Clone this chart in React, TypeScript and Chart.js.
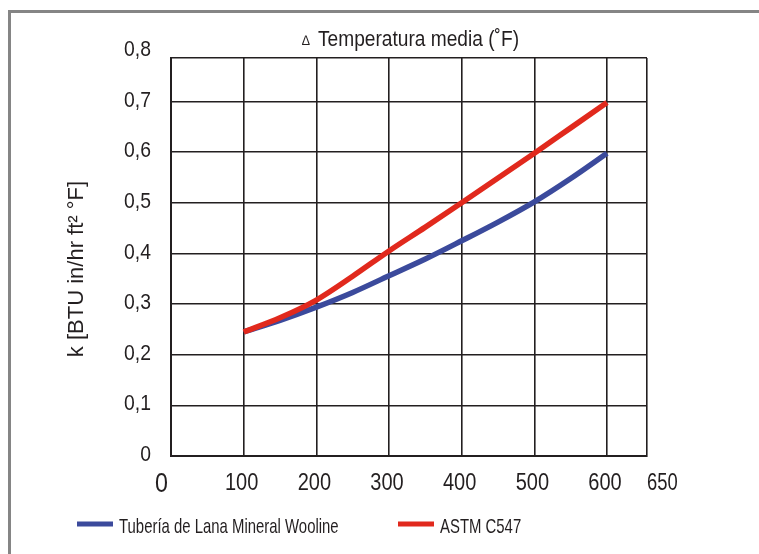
import React, { useEffect, useRef } from "react";
import { Chart, registerables } from "chart.js";

Chart.register(...registerables);

// ---- data ----
const temperatures = [100, 150, 200, 250, 300, 350, 400, 450, 500, 550, 600];
const woolineK = [0.245, 0.268, 0.294, 0.323, 0.356, 0.389, 0.425, 0.462, 0.502, 0.548, 0.598];
const astmK = [0.245, 0.273, 0.308, 0.355, 0.405, 0.452, 0.5, 0.549, 0.598, 0.648, 0.698];

const xGridValues = [0, 100, 200, 300, 400, 500, 600, 655];
const xLabelValues = [0, 100, 200, 300, 400, 500, 600, 650];
const xLabelTexts = ["0", "100", "200", "300", "400", "500", "600", "650"];

const yGridValues = [0, 0.1, 0.2, 0.3, 0.4, 0.5, 0.6, 0.7, 0.786];
const yLabelValues = [0, 0.1, 0.2, 0.3, 0.4, 0.5, 0.6, 0.7, 0.8];
const yLabelTexts = ["0", "0,1", "0,2", "0,3", "0,4", "0,5", "0,6", "0,7", "0,8"];

const seriesNames = ["Tubería de Lana Mineral Wooline", "ASTM C547"];
const titleText = "Temperatura media (˚F)";
const yTitleText = "k [BTU in/hr ft² °F]";

const BLUE = "#3b4a9c";
const RED = "#e1291d";
const INK = "#231f20";
const FONT = '"Liberation Sans", Arial, sans-serif';

function drawText(
  ctx: CanvasRenderingContext2D,
  text: string,
  x: number,
  y: number,
  size: number,
  k: number,
  align: CanvasTextAlign,
  baseline: CanvasTextBaseline = "alphabetic"
) {
  ctx.save();
  ctx.translate(x, y);
  ctx.scale(k, 1);
  ctx.font = `${size}px ${FONT}`;
  ctx.textAlign = align;
  ctx.textBaseline = baseline;
  ctx.fillText(text, 0, 0);
  ctx.restore();
}

const decor = {
  id: "decor",
  beforeDraw(chart: any) {
    const ctx = chart.ctx;
    ctx.save();
    ctx.fillStyle = "#ffffff";
    ctx.fillRect(0, 0, chart.width, chart.height);
    ctx.fillStyle = "#858585";
    ctx.fillRect(8, 10, chart.width - 8, 3);
    ctx.fillRect(8, 10, 3, chart.height - 10);
    ctx.restore();
  },
  afterDraw(chart: any) {
    const ctx = chart.ctx;
    const xs = chart.scales.x;
    const ys = chart.scales.y;
    const area = chart.chartArea;
    ctx.save();
    ctx.fillStyle = INK;

    // y tick labels
    yLabelValues.forEach((v, i) => {
      drawText(ctx, yLabelTexts[i], area.left - 20, ys.getPixelForValue(v) - 1, 22, 0.88, "right", "middle");
    });

    // x tick labels
    xLabelValues.forEach((v, i) => {
      const px = xs.getPixelForValue(v);
      if (i === 0) {
        drawText(ctx, xLabelTexts[i], px - 3, area.bottom + 36, 28, 0.83, "right");
      } else if (i === xLabelValues.length - 1) {
        drawText(ctx, xLabelTexts[i], area.right, area.bottom + 34, 23, 0.8, "left");
      } else {
        drawText(ctx, xLabelTexts[i], px - 2, area.bottom + 34, 23, 0.87, "center");
      }
    });

    // title
    drawText(ctx, "∆", 302, 45, 14, 0.9, "left");
    drawText(ctx, titleText, 318, 46, 22, 0.87, "left");

    // y axis title
    ctx.save();
    ctx.translate(83, 269);
    ctx.rotate(-Math.PI / 2);
    drawText(ctx, yTitleText, 0, 0, 22, 1.0, "center");
    ctx.restore();

    // legend
    const items = [
      { x: 77, color: chart.data.datasets[1].borderColor, label: chart.data.datasets[1].label },
      { x: 398, color: chart.data.datasets[0].borderColor, label: chart.data.datasets[0].label },
    ];
    items.forEach((it) => {
      ctx.fillStyle = it.color;
      ctx.fillRect(it.x, 521.5, 36, 5);
      ctx.fillStyle = INK;
      drawText(ctx, it.label, it.x + 42, 533, 21, 0.71, "left");
    });
    ctx.restore();
  },
};

export default function App() {
  const ref = useRef<HTMLCanvasElement | null>(null);

  useEffect(() => {
    if (!ref.current) return;
    const chart = new Chart(ref.current, {
      type: "line",
      data: {
        datasets: [
          {
            label: seriesNames[1],
            data: temperatures.map((t, i) => ({ x: t, y: astmK[i] })),
            borderColor: RED,
            borderWidth: 5.5,
            pointRadius: 0,
            cubicInterpolationMode: "monotone",
            order: 0,
          },
          {
            label: seriesNames[0],
            data: temperatures.map((t, i) => ({ x: t, y: woolineK[i] })),
            borderColor: BLUE,
            borderWidth: 5.5,
            pointRadius: 0,
            cubicInterpolationMode: "monotone",
            order: 1,
          },
        ],
      },
      options: {
        responsive: false,
        animation: false,
        layout: { padding: { left: 171, top: 58, right: 112, bottom: 98 } },
        plugins: { legend: { display: false }, tooltip: { enabled: false }, title: { display: false } },
        scales: {
          x: {
            type: "linear",
            min: 0,
            max: 655,
            afterBuildTicks: (s: any) => {
              s.ticks = xGridValues.map((v) => ({ value: v }));
            },
            ticks: { display: false },
            grid: { color: INK, lineWidth: 1.6, drawTicks: false },
            border: { display: true, color: INK, width: 2 },
          },
          y: {
            type: "linear",
            min: 0,
            max: 0.786,
            afterBuildTicks: (s: any) => {
              s.ticks = yGridValues.map((v) => ({ value: v }));
            },
            ticks: { display: false },
            grid: { color: INK, lineWidth: 1.6, drawTicks: false },
            border: { display: true, color: INK, width: 2 },
          },
        },
      },
      plugins: [decor],
    } as any);
    return () => chart.destroy();
  }, []);

  return (
    <div style={{ position: "absolute", left: 0, top: 0, width: 759, height: 554, background: "#fff" }}>
      <canvas ref={ref} width={759} height={554} style={{ width: 759, height: 554, display: "block" }} />
    </div>
  );
}
